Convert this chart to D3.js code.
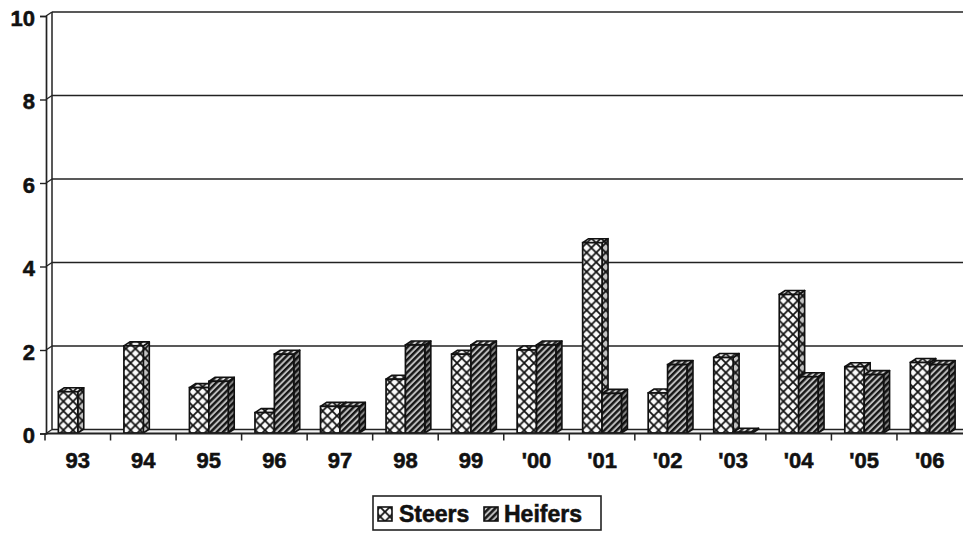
<!DOCTYPE html>
<html>
<head>
<meta charset="utf-8">
<script src="https://cdn.jsdelivr.net/npm/d3@7"></script>
<style>
  html, body { margin: 0; padding: 0; background: #fff; }
  svg { display: block; }
  text { font-family: "Liberation Sans", Arial, sans-serif; font-weight: bold; fill: #111; stroke: #111; stroke-width: 0.55px; }
</style>
</head>
<body>
<svg id="chart" width="963" height="533"></svg>
<script>
// Yearly values for steers and heifers
const categories = ["93", "94", "95", "96", "97", "98", "99", "'00", "'01", "'02", "'03", "'04", "'05", "'06"];
const seriesNames = ["Steers", "Heifers"];
const steers  = [1.0, 2.1, 1.1, 0.5, 0.65, 1.3, 1.9, 2.0, 4.57, 0.97, 1.82, 3.33, 1.6, 1.7];
const heifers = [0, 0, 1.25, 1.9, 0.65, 2.12, 2.12, 2.12, 0.96, 1.65, 0.03, 1.36, 1.41, 1.65];
const yTicks  = [0, 2, 4, 6, 8, 10];

const svg = d3.select("#chart");
const W = 963;

// depth offset of the 3D wall / bars
const DX = 6, DY = 4;

const x = d3.scaleBand().domain(categories).range([45, 962.5]).padding(0);
const inner = d3.scaleBand().domain(seriesNames).range([0, x.bandwidth()])
  .paddingInner(0).paddingOuter(0.69);
const y = d3.scaleLinear().domain([0, 10]).range([433.5, 16]);

// ---------- fill patterns ----------
const defs = svg.append("defs");
function crossPattern(id, bg) {
  const p = defs.append("pattern").attr("id", id).attr("patternUnits", "userSpaceOnUse")
    .attr("width", 9.6).attr("height", 9.6).attr("x", 1).attr("y", 3);
  p.append("rect").attr("width", 9.6).attr("height", 9.6).attr("fill", bg);
  p.append("path").attr("d", "M0,0L9.6,9.6M9.6,0L0,9.6M-1,8.6L1,10.6M8.6,-1L10.6,1")
    .attr("stroke", "#111").attr("stroke-width", 1.8).attr("fill", "none");
}
function stripePattern(id, bg, ink) {
  const p = defs.append("pattern").attr("id", id).attr("patternUnits", "userSpaceOnUse")
    .attr("width", 4.4).attr("height", 10).attr("patternTransform", "rotate(45)");
  p.append("rect").attr("width", 4.4).attr("height", 10).attr("fill", bg);
  p.append("rect").attr("width", 2.4).attr("height", 10).attr("fill", ink);
}
crossPattern("crossFront", "#fbfbfb");
crossPattern("crossSide", "#c4c4c4");
crossPattern("crossTop", "#efefef");
stripePattern("stripeFront", "#bdbdbd", "#161616");
stripePattern("stripeSide", "#858585", "#111");
stripePattern("stripeTop", "#d2d2d2", "#262626");

const fills = {
  Steers:  { front: "url(#crossFront)", side: "url(#crossSide)", top: "url(#crossTop)" },
  Heifers: { front: "url(#stripeFront)", side: "url(#stripeSide)", top: "url(#stripeTop)" }
};

// ---------- walls, floor and gridlines ----------
const xL = 46, xR = W + 2;
const wall = svg.append("g");

// floor
wall.append("path")
  .attr("d", `M${xL},${y(0)}L${xL + DX},${y(0) - DY}L${xR},${y(0) - DY}L${xR},${y(0)}Z`)
  .attr("fill", "#f4f4f4").attr("stroke", "none");

// horizontal gridlines on the back wall
wall.selectAll("line.grid").data(yTicks).join("line")
  .attr("class", "grid")
  .attr("x1", xL + DX).attr("x2", xR)
  .attr("y1", d => y(d) - DY).attr("y2", d => y(d) - DY)
  .attr("stroke", "#222").attr("stroke-width", 1.5);

// short connectors from the front axis to the back wall
wall.selectAll("line.conn").data(yTicks).join("line")
  .attr("class", "conn")
  .attr("x1", xL).attr("y1", d => y(d))
  .attr("x2", xL + DX).attr("y2", d => y(d) - DY)
  .attr("stroke", "#222").attr("stroke-width", 1.3);

// back edge of the side wall
wall.append("line")
  .attr("x1", xL + DX).attr("x2", xL + DX)
  .attr("y1", y(10) - DY).attr("y2", y(0) - DY)
  .attr("stroke", "#222").attr("stroke-width", 1.5);

// ---------- y axis ----------
const yAxis = d3.axisLeft(y).tickValues(yTicks).tickSize(6).tickPadding(5).tickFormat(d3.format("d"));
const gy = svg.append("g").attr("transform", `translate(${xL},0)`).call(yAxis);
gy.select(".domain").attr("stroke", "#222").attr("stroke-width", 1.7);
gy.selectAll(".tick line").attr("stroke", "#222").attr("stroke-width", 1.4);
gy.selectAll(".tick text").attr("font-size", 22).attr("dy", "0.42em")
  .style("font-family", "'Liberation Sans', Arial, sans-serif").style("font-weight", "bold")
  .attr("fill", "#111").attr("stroke", "#111").attr("stroke-width", 0.55);

// ---------- bars ----------
const rows = categories.map((c, i) => ({ cat: c, values: [
  { key: "Steers", value: steers[i] },
  { key: "Heifers", value: heifers[i] }
]}));

const barsG = svg.append("g");
const y0 = y(0) - 0.5;
rows.forEach(r => {
  r.values.forEach(v => {
    if (v.value <= 0) return;
    const x0 = x(r.cat) + inner(v.key);
    const w = inner.bandwidth();
    const yv = y(v.value);
    const g = barsG.append("g");
    const f = fills[v.key];
    // side face
    g.append("path")
      .attr("d", `M${x0 + w},${yv}L${x0 + w + DX},${yv - DY}L${x0 + w + DX},${y0 - DY}L${x0 + w},${y0}Z`)
      .attr("fill", f.side).attr("stroke", "#111").attr("stroke-width", 1.6).attr("stroke-linejoin", "round");
    // top face
    g.append("path")
      .attr("d", `M${x0},${yv}L${x0 + DX},${yv - DY}L${x0 + w + DX},${yv - DY}L${x0 + w},${yv}Z`)
      .attr("fill", f.top).attr("stroke", "#111").attr("stroke-width", 1.6).attr("stroke-linejoin", "round");
    // front face
    g.append("rect")
      .attr("x", x0).attr("y", yv).attr("width", w).attr("height", Math.max(0, y0 - yv))
      .attr("fill", f.front).attr("stroke", "#111").attr("stroke-width", 1.7);
  });
});

// ---------- x axis (front floor edge) ----------
svg.append("line")
  .attr("x1", xL).attr("x2", xR).attr("y1", y(0)).attr("y2", y(0))
  .attr("stroke", "#222").attr("stroke-width", 1.9);

svg.append("g").selectAll("line").data(categories).join("line")
  .attr("x1", d => x(d)).attr("x2", d => x(d))
  .attr("y1", y(0)).attr("y2", y(0) + 7)
  .attr("stroke", "#222").attr("stroke-width", 1.5);

svg.append("g").selectAll("text").data(categories).join("text")
  .attr("x", d => x(d) + x.bandwidth() / 2)
  .attr("y", 468)
  .attr("text-anchor", "middle")
  .attr("font-size", 22)
  .text(d => d);

// ---------- legend ----------
const lg = svg.append("g");
lg.append("rect").attr("x", 373).attr("y", 496).attr("width", 228).attr("height", 34)
  .attr("fill", "#fff").attr("stroke", "#222").attr("stroke-width", 1.6);
const legendItems = [
  { key: "Steers", sx: 378, tx: 399 },
  { key: "Heifers", sx: 484, tx: 504 }
];
legendItems.forEach(it => {
  lg.append("rect").attr("x", it.sx).attr("y", 507).attr("width", 14).attr("height", 14)
    .attr("fill", fills[it.key].front).attr("stroke", "#111").attr("stroke-width", 1.6);
  lg.append("text").attr("x", it.tx).attr("y", 522).attr("font-size", 23).text(it.key);
});
</script>
</body>
</html>
